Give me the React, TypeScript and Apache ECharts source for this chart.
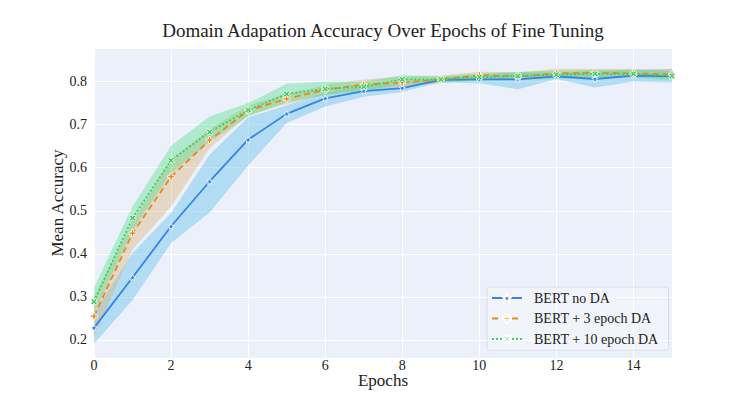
import React, { useEffect, useRef } from "react";
import * as echarts from "echarts";

const epochs = ["0", "1", "2", "3", "4", "5", "6", "7", "8", "9", "10", "11", "12", "13", "14", "15"];

const noDaMean = [0.228, 0.345, 0.464, 0.568, 0.665, 0.725, 0.761, 0.778, 0.785, 0.804, 0.805, 0.805, 0.812, 0.806, 0.814, 0.812];
const noDaLow = [0.191, 0.293, 0.425, 0.496, 0.605, 0.704, 0.742, 0.765, 0.776, 0.799, 0.796, 0.782, 0.806, 0.786, 0.8, 0.798];
const noDaHigh = [0.262, 0.402, 0.495, 0.63, 0.717, 0.745, 0.774, 0.79, 0.797, 0.81, 0.815, 0.822, 0.82, 0.823, 0.827, 0.83];

const da3Mean = [0.255, 0.448, 0.579, 0.664, 0.733, 0.76, 0.781, 0.793, 0.798, 0.805, 0.815, 0.812, 0.819, 0.821, 0.819, 0.817];
const da3Low = [0.207, 0.41, 0.51, 0.645, 0.722, 0.748, 0.77, 0.781, 0.788, 0.797, 0.806, 0.804, 0.809, 0.811, 0.81, 0.807];
const da3High = [0.3, 0.475, 0.62, 0.69, 0.745, 0.772, 0.792, 0.805, 0.812, 0.814, 0.823, 0.821, 0.83, 0.83, 0.829, 0.828];

const da10Mean = [0.289, 0.483, 0.617, 0.683, 0.734, 0.771, 0.783, 0.788, 0.805, 0.805, 0.81, 0.813, 0.816, 0.818, 0.818, 0.813];
const da10Low = [0.262, 0.455, 0.587, 0.66, 0.719, 0.752, 0.768, 0.778, 0.795, 0.797, 0.802, 0.804, 0.806, 0.809, 0.809, 0.803];
const da10High = [0.322, 0.51, 0.651, 0.719, 0.75, 0.795, 0.8, 0.8, 0.815, 0.812, 0.819, 0.822, 0.826, 0.827, 0.828, 0.824];

const seriesNames = ["BERT no DA", "BERT + 3 epoch DA", "BERT + 10 epoch DA"];

const FONT = "Liberation Serif, DejaVu Serif, serif";
const TEXT = "#222";

const STAR = "path://M0,-10 L2.9,-4 9.5,-3.1 4.7,1.5 5.9,8.1 0,5 -5.9,8.1 -4.7,1.5 -9.5,-3.1 -2.9,-4 Z";
const PLUS = "path://M-1.2,-4 H1.2 V-1.2 H4 V1.2 H1.2 V4 H-1.2 V1.2 H-4 V-1.2 H-1.2 Z";

function band(id: string, low: number[], high: number[], color: string) {
  return [
    {
      type: "line",
      name: id + "-low",
      stack: id,
      data: low,
      symbol: "none",
      lineStyle: { opacity: 0 },
      silent: true,
      z: 1,
    },
    {
      type: "line",
      name: id + "-high",
      stack: id,
      data: high.map((h, i) => +(h - low[i]).toFixed(4)),
      symbol: "none",
      lineStyle: { opacity: 0 },
      areaStyle: { color, opacity: 1 },
      silent: true,
      z: 1,
    },
  ];
}

export default function App() {
  const ref = useRef<HTMLDivElement>(null);
  useEffect(() => {
    if (!ref.current) return;
    const chart = echarts.init(ref.current, null, { renderer: "svg" });
    const option = {
      animation: false,
      backgroundColor: "#ffffff",
      textStyle: { fontFamily: FONT },
      graphic: [
        {
          type: "text",
          x: 383,
          y: 30,
          style: {
            text: "Domain Adapation Accuracy Over Epochs of Fine Tuning",
            fontFamily: FONT,
            fontSize: 19,
            fill: TEXT,
            textAlign: "center",
            textVerticalAlign: "middle",
          },
        },
      ],
      grid: {
        left: 94,
        right: 75,
        top: 48,
        bottom: 45,
        show: true,
        backgroundColor: "#ecf0fa",
        borderWidth: 0,
      },
      xAxis: {
        type: "category",
        data: epochs,
        boundaryGap: false,
        name: "Epochs",
        nameLocation: "middle",
        nameGap: 14,
        nameMoveOverlap: false,
        nameTextStyle: { fontFamily: FONT, fontSize: 17, color: TEXT, verticalAlign: "top" },
        axisLine: { show: false },
        axisTick: { show: false },
        axisLabel: {
          fontFamily: FONT,
          fontSize: 14,
          color: TEXT,
          margin: 0,
          interval: 1,
        },
        splitLine: { show: true, interval: 1, lineStyle: { color: "#ffffff", width: 1 } },
      },
      yAxis: {
        type: "value",
        min: 0.158,
        max: 0.878,
        splitNumber: 7,
        name: "Mean Accuracy",
        nameLocation: "middle",
        nameGap: 28,
        nameMoveOverlap: false,
        nameTextStyle: { fontFamily: FONT, fontSize: 17, color: TEXT },
        axisLine: { show: false },
        axisTick: { show: false },
        axisLabel: {
          fontFamily: FONT,
          fontSize: 14,
          color: TEXT,
          margin: 7,
          formatter: (v: number) => (Math.abs(v * 10 - Math.round(v * 10)) < 1e-6 ? v.toFixed(1) : ""),
        },
        splitLine: { show: true, lineStyle: { color: "#ffffff", width: 1 } },
      },
      legend: {
        data: seriesNames,
        orient: "vertical",
        left: 487,
        top: 287,
        itemWidth: 30,
        itemHeight: 10,
        itemGap: 6.5,
        padding: [4, 10, 4, 4],
        backgroundColor: "rgba(255,255,255,0.25)",
        borderColor: "#d9dee8",
        borderWidth: 1,
        borderRadius: 2,
        textStyle: { fontFamily: FONT, fontSize: 14, color: TEXT, padding: [0, 0, 0, 7] },
      },
      series: [
        ...band("b1", noDaLow, noDaHigh, "rgba(120,200,235,0.5)"),
        ...band("b2", da3Low, da3High, "rgba(215,170,100,0.35)"),
        ...band("b3", da10Low, da10High, "rgba(60,222,120,0.34)"),
        {
          type: "line",
          name: seriesNames[0],
          data: noDaMean,
          color: "#3584e4",
          lineStyle: { color: "#3584e4", width: 1.8, type: "solid" },
          symbol: STAR,
          symbolSize: 6,
          itemStyle: { color: "#3584e4", borderColor: "#ffffff", borderWidth: 0.8 },
          z: 3,
        },
        {
          type: "line",
          name: seriesNames[1],
          data: da3Mean,
          color: "#e68a1e",
          lineStyle: { color: "#e68a1e", width: 1.8, type: [6, 4] },
          symbol: PLUS,
          symbolSize: 7,
          itemStyle: { color: "#e68a1e", borderColor: "#ffffff", borderWidth: 0.8 },
          z: 4,
        },
        {
          type: "line",
          name: seriesNames[2],
          data: da10Mean,
          color: "#3ccf62",
          lineStyle: { color: "#3ccf62", width: 1.8, type: [2, 2] },
          symbol: PLUS,
          symbolRotate: 45,
          symbolSize: 7,
          itemStyle: { color: "#3ccf62", borderColor: "#ffffff", borderWidth: 0.8 },
          z: 5,
        },
      ],
    };
    chart.setOption(option as any);
    return () => chart.dispose();
  }, []);
  return (
    <div
      ref={ref}
      style={{ position: "absolute", left: 0, top: 0, width: 747, height: 403 }}
    />
  );
}
